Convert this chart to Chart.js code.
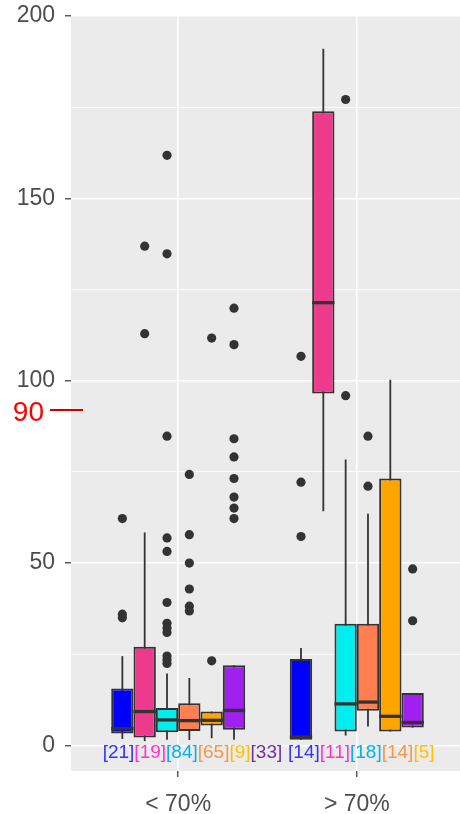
<!DOCTYPE html>
<html>
<head>
<meta charset="utf-8">
<script src="https://cdn.jsdelivr.net/npm/chart.js@4.4.1/dist/chart.umd.min.js"></script>
<style>
  html, body { margin: 0; padding: 0; background: #ffffff; overflow: hidden; }
  #wrap { width: 464px; height: 814px; }
  canvas { display: block; }
</style>
</head>
<body>
<div id="wrap"><canvas id="chart" width="464" height="814"></canvas></div>
<script>
// groups on the x axis and the six boxes dodged inside each group
const groups = ['< 70%', '> 70%'];
const seriesNames = ['blue', 'pink', 'cyan', 'coral', 'orange', 'purple'];
const boxColors = ['#0000FF', '#EE3A8C', '#00EEEE', '#FF7F50', '#FFA500', '#A020F0'];

// box statistics, one [< 70%, > 70%] pair per series
const lowerWhisker = [[1.8, 1.6], [1.2, 64.2], [1.6, 2.7], [1.5, 5.2], [2.0, 3.8], [1.6, 4.9]];
const q1 = [[3.3, 1.6], [2.2, 96.5], [3.6, 3.8], [4.0, 9.5], [5.5, 3.8], [4.3, 4.9]];
const medians = [[4.6, 2.3], [9.3, 121.4], [7.0, 11.4], [6.8, 11.9], [6.9, 8.0], [9.6, 6.3]];
const q3 = [[15.6, 23.7], [27.1, 173.9], [10.3, 33.4], [11.6, 33.4], [9.3, 73.2], [22.0, 14.4]];
const upperWhisker = [[24.5, 26.7], [58.4, 191.0], [19.7, 78.4], [18.5, 63.5], [9.3, 100.3], [22.0, 14.4]];

// outliers per series
const outliersLow = [
  [62.2, 36.0, 35.0],
  [136.9, 112.9],
  [161.8, 134.8, 84.8, 56.9, 53.2, 39.2, 33.5, 32.2, 31.0, 24.5, 23.5, 22.5],
  [74.3, 57.8, 50.0, 42.9, 38.2, 36.9],
  [111.7, 23.2],
  [119.9, 109.9, 84.1, 79.1, 73.2, 68.1, 65.1, 62.2]
];
const outliersHigh = [
  [106.7, 72.2, 57.3],
  [],
  [177.1, 95.9],
  [84.8, 71.1],
  [],
  [48.4, 34.2]
];

// counts written under the boxes
const countsLow = [21, 19, 84, 65, 9, 33];
const countsHigh = [14, 11, 18, 14, 5];
const countColors = ['#3333FF', '#FF33CC', '#00B0F0', '#F79646', '#FFC000', '#7030A0'];
const countAnchor = [1.08, 2.025];
const countRowValue = -2.1;

// y axis ticks
const majorTicks = [0, 50, 100, 150, 200];
const yTicks = [0, 25, 50, 75, 100, 125, 150, 175, 200];

// red reference mark on the left
const refText = '90';
const refValue = 92;

const dodge = 0.75;
const slot = dodge / seriesNames.length;
const outliers = [outliersLow, outliersHigh];

Chart.defaults.font.family = '"Liberation Sans", Arial, sans-serif';

const datasets = [];
seriesNames.forEach(function (name, k) {
  datasets.push({
    type: 'bar',
    label: name + ' median',
    stack: name,
    order: 0,
    data: groups.map((g, gi) => ({ x: gi + 1, y: [medians[k][gi] - 0.45, medians[k][gi] + 0.45] })),
    backgroundColor: '#333333',
    borderWidth: 0,
    categoryPercentage: dodge,
    barPercentage: 1
  });
  datasets.push({
    type: 'bar',
    label: name + ' box',
    stack: name,
    order: 1,
    data: groups.map((g, gi) => ({ x: gi + 1, y: [q1[k][gi], q3[k][gi]] })),
    backgroundColor: boxColors[k],
    borderColor: '#333333',
    borderWidth: 2,
    borderSkipped: false,
    categoryPercentage: dodge,
    barPercentage: 1
  });
  datasets.push({
    type: 'bar',
    label: name + ' whisker',
    stack: name,
    order: 2,
    data: groups.map((g, gi) => ({ x: gi + 1, y: [lowerWhisker[k][gi], upperWhisker[k][gi]] })),
    backgroundColor: '#333333',
    borderWidth: 0,
    categoryPercentage: dodge,
    barPercentage: 1,
    maxBarThickness: 1.8
  });
  const pts = [];
  groups.forEach(function (g, gi) {
    outliers[gi][k].forEach(v => pts.push({ x: gi + 1 + (k - (seriesNames.length - 1) / 2) * slot, y: v }));
  });
  datasets.push({
    type: 'scatter',
    label: name + ' outliers',
    order: -1,
    data: pts,
    pointRadius: 4.6,
    pointBackgroundColor: '#333333',
    pointBorderWidth: 0
  });
});

const panelPlugin = {
  id: 'panel',
  beforeDraw(chart) {
    const { ctx, chartArea } = chart;
    ctx.save();
    ctx.fillStyle = '#EBEBEB';
    ctx.fillRect(chartArea.left, chartArea.top, chartArea.right - chartArea.left, chartArea.bottom - chartArea.top);
    ctx.restore();
  }
};

const countPlugin = {
  id: 'counts',
  afterDatasetsDraw(chart) {
    const { ctx, scales: { x, y } } = chart;
    ctx.save();
    ctx.font = '19px "Liberation Sans", Arial, sans-serif';
    ctx.textBaseline = 'middle';
    ctx.textAlign = 'left';
    [countsLow, countsHigh].forEach(function (counts, gi) {
      const texts = counts.map(n => '[' + n + ']');
      const total = texts.reduce((s, t) => s + ctx.measureText(t).width, 0);
      let cx = x.getPixelForValue(countAnchor[gi]) - total / 2;
      const cy = y.getPixelForValue(countRowValue);
      texts.forEach(function (t, k) {
        ctx.fillStyle = countColors[k];
        ctx.fillText(t, cx, cy);
        cx += ctx.measureText(t).width;
      });
    });
    ctx.restore();
  }
};

const refPlugin = {
  id: 'refMark',
  afterDraw(chart) {
    const { ctx, chartArea, scales: { y } } = chart;
    const py = y.getPixelForValue(refValue);
    ctx.save();
    ctx.fillStyle = '#FF0000';
    ctx.font = '28px "Liberation Sans", Arial, sans-serif';
    ctx.textAlign = 'right';
    ctx.textBaseline = 'middle';
    ctx.fillText(refText, chartArea.left - 27, py + 3);
    ctx.strokeStyle = '#CC0000';
    ctx.lineWidth = 2;
    ctx.beginPath();
    ctx.moveTo(chartArea.left - 21, py);
    ctx.lineTo(chartArea.left + 12, py);
    ctx.stroke();
    ctx.restore();
  }
};

new Chart(document.getElementById('chart').getContext('2d'), {
  type: 'bar',
  data: { datasets: datasets },
  options: {
    responsive: false,
    animation: false,
    layout: { autoPadding: false, padding: { top: 16, left: 0, right: 0, bottom: 0 } },
    plugins: { legend: { display: false }, tooltip: { enabled: false } },
    scales: {
      x: {
        type: 'linear',
        min: 0.4,
        max: 2.6,
        offset: false,
        afterBuildTicks: s => { s.ticks = groups.map((g, i) => ({ value: i + 1 })); },
        afterFit: s => { s.height = 43; s.paddingLeft = 0; s.paddingRight = 0; },
        ticks: {
          callback: (v, i) => groups[i],
          color: '#4D4D4D',
          font: { size: 23 },
          padding: 14,
          maxRotation: 0,
          autoSkip: false
        },
        grid: {
          offset: false,
          color: '#FFFFFF',
          lineWidth: 1.6,
          tickColor: '#333333',
          tickLength: 6,
          tickWidth: 1.2
        },
        border: { display: false }
      },
      y: {
        type: 'linear',
        min: -7,
        max: 200,
        stacked: false,
        afterBuildTicks: s => { s.ticks = yTicks.map(v => ({ value: v })); },
        afterFit: s => { s.width = 71; s.paddingTop = 0; s.paddingBottom = 0; },
        ticks: {
          callback: v => majorTicks.includes(v) ? String(v) : '',
          color: '#4D4D4D',
          font: { size: 23 },
          padding: 10,
          autoSkip: false
        },
        grid: {
          color: '#FFFFFF',
          lineWidth: c => majorTicks.includes(c.tick.value) ? 1.6 : 0.8,
          tickColor: c => majorTicks.includes(c.tick.value) ? '#333333' : 'rgba(0,0,0,0)',
          tickLength: 6,
          tickWidth: 1.2
        },
        border: { display: false }
      }
    }
  },
  plugins: [panelPlugin, countPlugin, refPlugin]
});
</script>
</body>
</html>
